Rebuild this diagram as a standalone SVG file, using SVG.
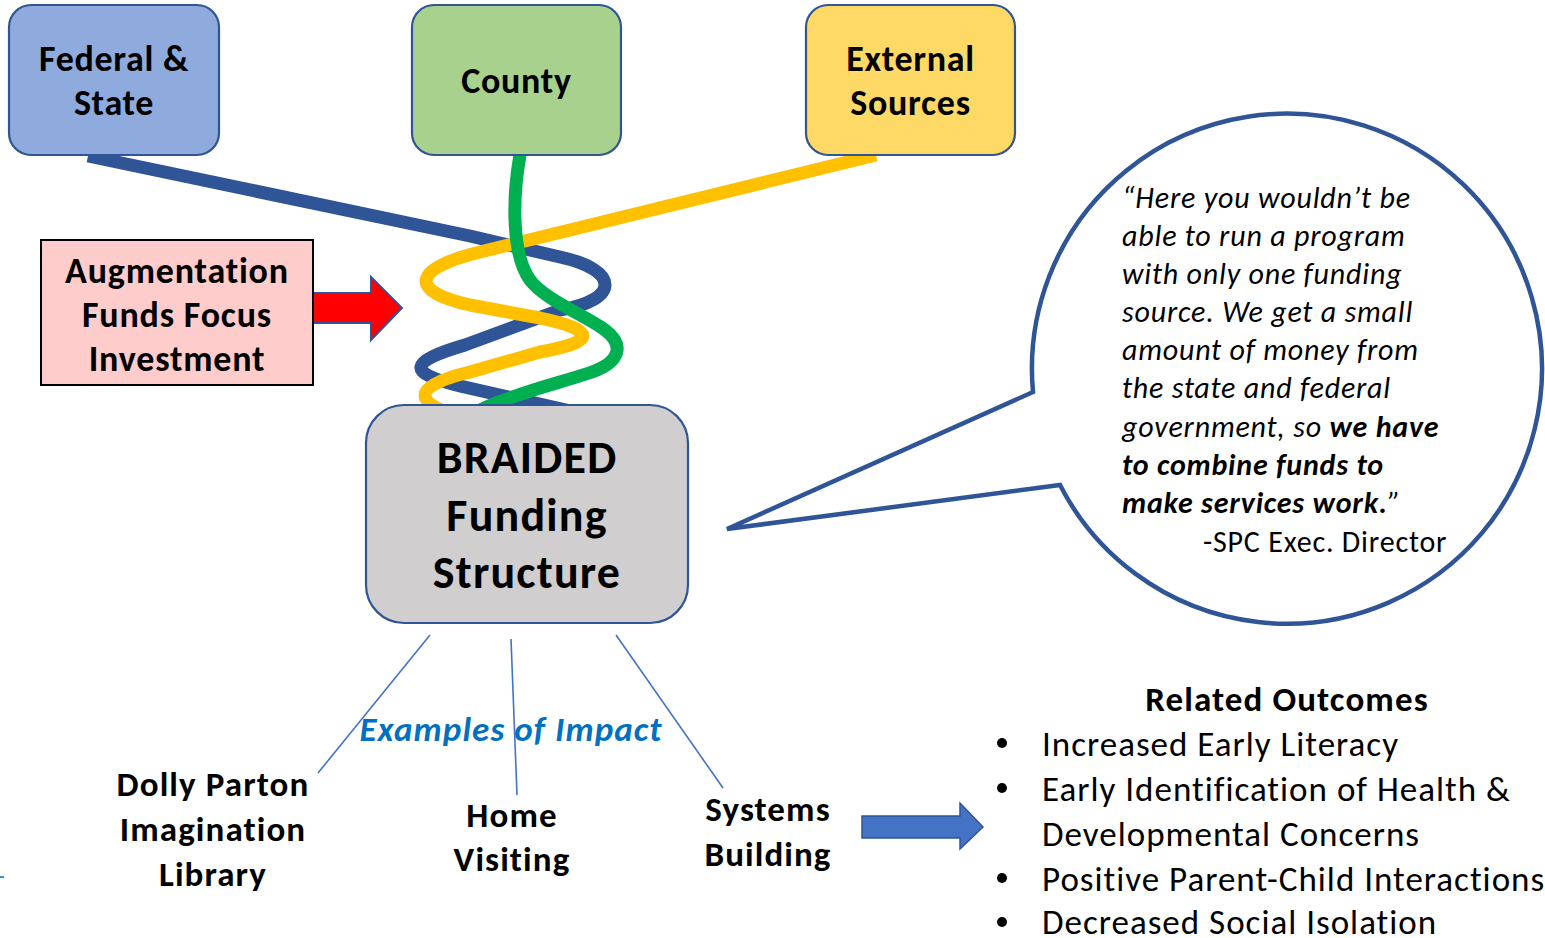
<svg xmlns="http://www.w3.org/2000/svg" width="1545" height="938" viewBox="0 0 1545 938">
<style>
  .lbl { font-family: Carlito, Lato, "Open Sans", sans-serif; font-weight: bold; fill: #000; text-anchor: middle; }
  .top { font-size: 36px; letter-spacing: 0.7px; }
  .aug { font-size: 36px; letter-spacing: 0.8px; }
  .big { font-size: 46px; letter-spacing: 1.2px; }
  .ex { font-size: 35px; letter-spacing: 1.1px; }
  .box { stroke: #2F5597; stroke-width: 2.2; }
  .strand { fill: none; stroke-width: 13; stroke-linecap: butt; stroke-linejoin: round; }
  .thin { stroke: #4472C4; stroke-width: 1.6; fill: none; }
  .quote { font-family: Carlito, Lato, "Open Sans", sans-serif; font-style: italic; font-size: 30px; letter-spacing: 0.8px; fill: #000; }
  .sig { font-family: Carlito, Lato, "Open Sans", sans-serif; font-style: normal; font-size: 30px; letter-spacing: 0.8px; fill: #000; }
  .out { font-family: Carlito, Lato, "Open Sans", sans-serif; font-size: 35px; letter-spacing: 1px; fill: #000; }
</style>
<rect width="1545" height="938" fill="#FFFFFF"/>

<g id="connectors">
  <path class="strand" stroke="#2F5597" d="M 88 156 L 470 236 L 560 257 C 620 270 620 300 560 310 L 465 345 C 407 362 407 373 460 386 L 575 412"/>
  <path class="strand" stroke="#FFC000" d="M 876 155 L 480 252 C 410 269 410 292 470 305 L 540 318 C 597 330 597 342 540 352 L 470 372 C 410 386 410 404 470 420"/>
  <path class="strand" stroke="#00B050" d="M 520 155 C 512 200 512 255 530 280 C 545 300 585 315 605 330 C 625 345 620 362 592 372 C 560 383 515 393 480 410"/>
  <polygon points="313,293 371,293 371,277 402,308 371,340 371,323 313,323" fill="#FF0000" stroke="#2F5597" stroke-width="2"/>
  <line class="thin" x1="430" y1="635" x2="318" y2="773"/>
  <line class="thin" x1="511" y1="639" x2="517" y2="795"/>
  <line class="thin" x1="616" y1="635" x2="723" y2="788"/>
  <polygon points="862,816 960,816 960,803 983,827 960,849 960,838 862,838" fill="#4472C4" stroke="#2F5597" stroke-width="1.5"/>
</g>

<g id="federal-state">
  <rect class="box" x="9" y="5" width="210" height="150" rx="22" fill="#8FAADC"/>
  <text class="lbl top" x="114" y="71">Federal &amp;</text>
  <text class="lbl top" x="114" y="115">State</text>
</g>

<g id="county">
  <rect class="box" x="412" y="5" width="209" height="150" rx="22" fill="#A9D18E"/>
  <text class="lbl top" x="516.5" y="93">County</text>
</g>

<g id="external-sources">
  <rect class="box" x="806" y="5" width="209" height="150" rx="22" fill="#FFD966"/>
  <text class="lbl top" x="910.5" y="71">External</text>
  <text class="lbl top" x="910.5" y="115">Sources</text>
</g>

<g id="augmentation">
  <rect x="41" y="240" width="272" height="145" fill="#FFCCCC" stroke="#000" stroke-width="2"/>
  <text class="lbl aug" x="177" y="283">Augmentation</text>
  <text class="lbl aug" x="177" y="327">Funds Focus</text>
  <text class="lbl aug" x="177" y="371">Investment</text>
</g>

<g id="braided">
  <rect class="box" x="366" y="405" width="322" height="218" rx="38" fill="#D0CECE" stroke-width="2.5"/>
  <text class="lbl big" x="527" y="473">BRAIDED</text>
  <text class="lbl big" x="527" y="531">Funding</text>
  <text class="lbl big" x="527" y="588">Structure</text>
</g>

<g id="quote-callout">
  <path d="M 1033 392 L 727 529 L 1060 485 A 255 255 0 1 0 1033 392 Z" fill="#FFFFFF" stroke="#2F5597" stroke-width="4.5" stroke-linejoin="miter"/>
  <text class="quote" x="1122" y="208">“Here you wouldn’t be</text>
  <text class="quote" x="1122" y="246">able to run a program</text>
  <text class="quote" x="1122" y="284">with only one funding</text>
  <text class="quote" x="1122" y="322">source. We get a small</text>
  <text class="quote" x="1122" y="360">amount of money from</text>
  <text class="quote" x="1122" y="398">the state and federal</text>
  <text class="quote" x="1122" y="437">government, so <tspan font-weight="bold">we have</tspan></text>
  <text class="quote" x="1122" y="475" font-weight="bold">to combine funds to</text>
  <text class="quote" x="1122" y="513"><tspan font-weight="bold">make services work.</tspan>”</text>
  <text class="sig" x="1203" y="552">-SPC Exec. Director</text>
</g>

<g id="examples-label">
  <text x="511" y="741" font-family="Carlito, Lato, 'Open Sans', sans-serif" font-size="35" letter-spacing="1.1" font-weight="bold" font-style="italic" fill="#0070C0" text-anchor="middle">Examples of Impact</text>
</g>

<g id="dolly-parton">
  <text class="lbl ex" x="213" y="796">Dolly Parton</text>
  <text class="lbl ex" x="213" y="841">Imagination</text>
  <text class="lbl ex" x="213" y="886">Library</text>
</g>

<g id="home-visiting">
  <text class="lbl ex" x="512" y="827">Home</text>
  <text class="lbl ex" x="512" y="871">Visiting</text>
</g>

<g id="systems-building">
  <text class="lbl ex" x="768" y="821">Systems</text>
  <text class="lbl ex" x="768" y="866">Building</text>
</g>

<g id="related-outcomes">
  <text class="lbl ex" x="1287" y="711">Related Outcomes</text>
  <circle cx="1002" cy="743" r="5" fill="#000"/>
  <text class="out" x="1042" y="756">Increased Early Literacy</text>
  <circle cx="1002" cy="788" r="5" fill="#000"/>
  <text class="out" x="1042" y="801">Early Identification of Health &amp;</text>
  <text class="out" x="1042" y="846">Developmental Concerns</text>
  <circle cx="1002" cy="878" r="5" fill="#000"/>
  <text class="out" x="1042" y="891">Positive Parent-Child Interactions</text>
  <circle cx="1002" cy="922" r="5" fill="#000"/>
  <text class="out" x="1042" y="934">Decreased Social Isolation</text>
</g>

<line x1="0" y1="877" x2="4" y2="877" stroke="#3A8FD0" stroke-width="2"/>
</svg>
